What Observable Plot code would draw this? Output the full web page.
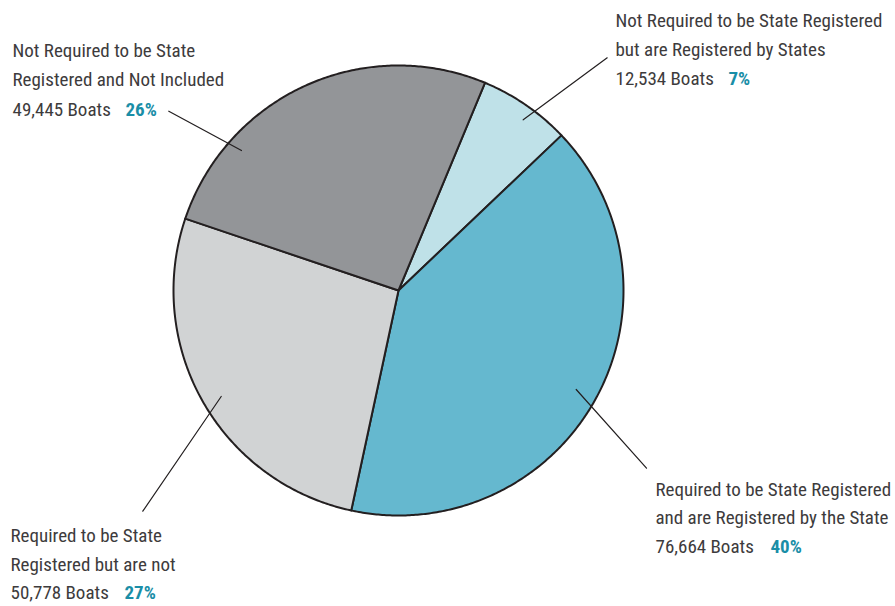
<!DOCTYPE html>
<html>
<head>
<meta charset="utf-8">
<script src="https://cdn.jsdelivr.net/npm/d3@7"></script>
<script src="https://cdn.jsdelivr.net/npm/@observablehq/plot@0.6"></script>
<style>
  html, body { margin: 0; padding: 0; background: #fff; }
  #chart svg { display: block; }
</style>
</head>
<body>
<div id="chart"></div>
<script>
// ---- Data ----
const categories = [
  "Not Required to be State Registered but are Registered by States",
  "Required to be State Registered and are Registered by the State",
  "Required to be State Registered but are not",
  "Not Required to be State Registered and Not Included"
];
const boats = [12534, 76664, 50778, 49445];
const percents = ["7%", "40%", "27%", "26%"];
const labelLines = [
  ["Not Required to be State Registered", "but are Registered by States"],
  ["Required to be State Registered", "and are Registered by the State"],
  ["Required to be State", "Registered but are not"],
  ["Not Required to be State", "Registered and Not Included"]
];

// ---- Styles / layout ----
const sliceColors = ["#bfe1e8", "#65b8cf", "#d1d3d4", "#939598"];
const textColor = "#3d3b3c";
const pctColor = "#1a8ea7";
const W = 895, H = 606;
const cx = 398, cy = 290, R = 225;
const startDeg = 22.6;
const font = "'Roboto Condensed', 'Liberation Sans Narrow', sans-serif";
const fontSize = 19;
// label layout: x, first baseline, line gap, percent x, leader line [from, to]
const labelLayout = [
  {x: 615, y0: 26,  gap: 29.2, px: 728, leader: [[606.7, 57.3], [522.7, 119.3]]},
  {x: 655, y0: 495, gap: 28.6, px: 770, leader: [[646, 467.7], [575.7, 389]]},
  {x: 10,  y0: 541.7, gap: 28.6, px: 124, leader: [[142.3, 510.7], [220.7, 396]]},
  {x: 12,  y0: 56.7, gap: 29.2, px: 125, leader: [[168.3, 110.7], [241, 150]]}
];

// ---- Slice geometry from values ----
const total = d3.sum(boats);
let acc = 0;
const slicePts = [];
boats.forEach((v, i) => {
  const a0 = startDeg + acc / total * 360;
  acc += v;
  const a1 = startDeg + acc / total * 360;
  const steps = Math.max(2, Math.ceil((a1 - a0) / 0.5));
  slicePts.push({key: categories[i], x: 0, y: 0, c: i});
  for (let s = 0; s <= steps; s++) {
    const a = (a0 + (a1 - a0) * s / steps) * Math.PI / 180;
    slicePts.push({key: categories[i], x: Math.sin(a), y: -Math.cos(a), c: i});
  }
  slicePts.push({key: categories[i], x: 0, y: 0, c: i});
});

// ---- Label rows ----
const textRows = [];
const pctRows = [];
const leaderRows = [];
labelLines.forEach((lines, i) => {
  const L = labelLayout[i];
  lines.forEach((t, j) => textRows.push({t, x: L.x, y: L.y0 + j * L.gap}));
  const y3 = L.y0 + lines.length * L.gap;
  textRows.push({t: d3.format(",")(boats[i]) + " Boats", x: L.x, y: y3});
  pctRows.push({t: percents[i], x: L.px, y: y3});
  L.leader.forEach((p) => leaderRows.push({id: i, x: p[0], y: p[1]}));
});

// Unit coordinates for the pie are mapped onto pixels
const px = d3.scaleLinear().domain([-1, 1]).range([cx - R, cx + R]);
const py = d3.scaleLinear().domain([-1, 1]).range([cy - R, cy + R]);
const pieRows = slicePts.map(d => ({...d, x: px(d.x), y: py(d.y)}));

const chart = Plot.plot({
  width: W,
  height: H,
  margin: 0,
  x: {domain: [0, W], range: [0, W], axis: null},
  y: {domain: [0, H], range: [0, H], axis: null},
  style: {fontFamily: font, background: "#fff"},
  marks: [
    Plot.line(pieRows, {
      x: "x", y: "y", z: "key",
      fill: d => sliceColors[d.c],
      stroke: "#231f20", strokeWidth: 2, strokeLinejoin: "round",
      curve: "linear"
    }),
    Plot.line(leaderRows, {x: "x", y: "y", z: "id", stroke: "#231f20", strokeWidth: 1.2}),
    Plot.text(textRows, {
      x: "x", y: "y", text: "t", textAnchor: "start", lineAnchor: "bottom",
      fill: textColor, fontSize: fontSize, fontFamily: font
    }),
    Plot.text(pctRows, {
      x: "x", y: "y", text: "t", textAnchor: "start", lineAnchor: "bottom",
      fill: pctColor, fontSize: fontSize, fontWeight: "bold", fontFamily: font
    })
  ]
});
document.getElementById("chart").appendChild(chart);
</script>
</body>
</html>
